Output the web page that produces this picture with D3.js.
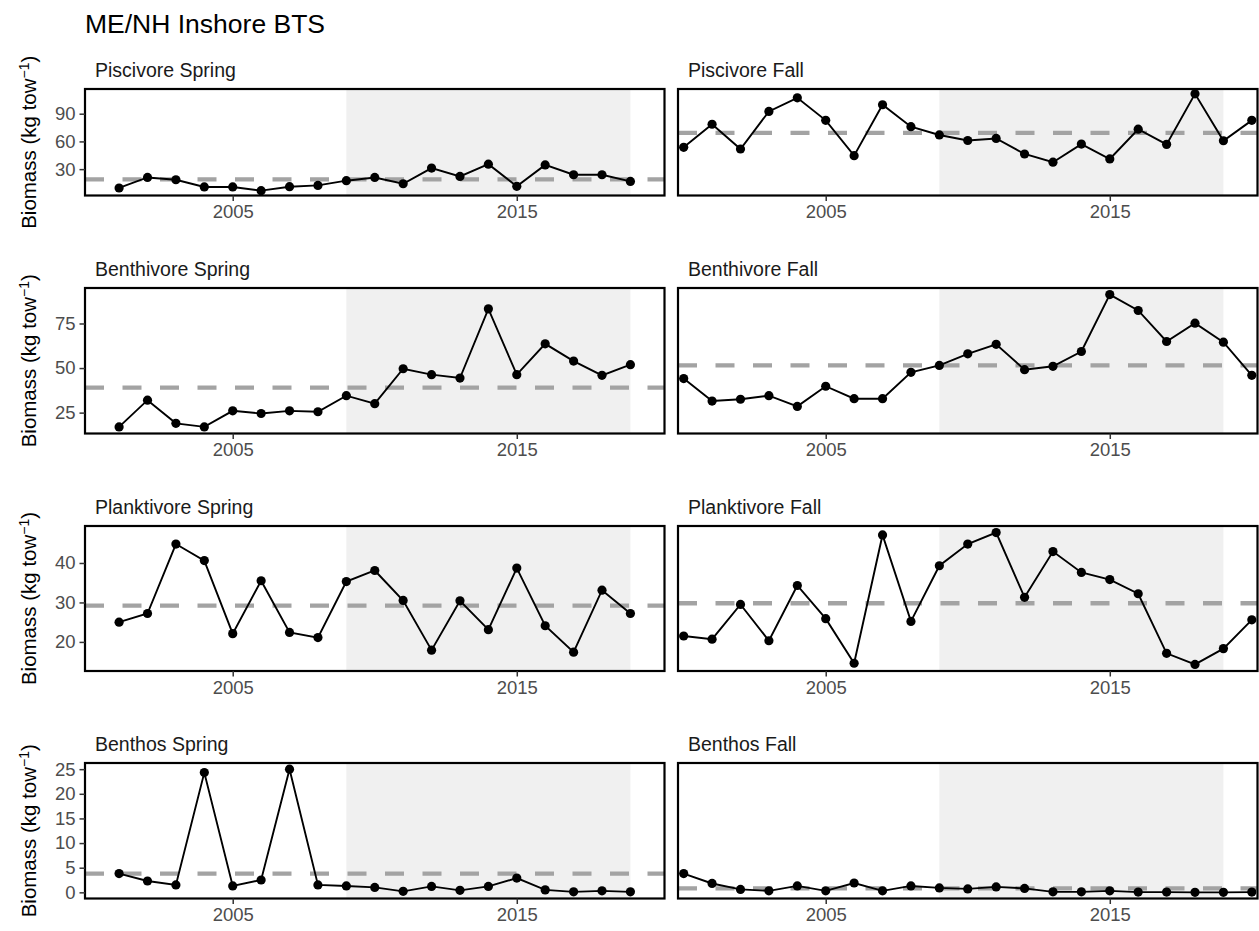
<!DOCTYPE html>
<html>
<head>
<meta charset="utf-8">
<script src="https://cdn.jsdelivr.net/npm/d3@7"></script>
<style>
  body { margin: 0; background: #fff; }
  svg { font-family: "Liberation Sans", Arial, sans-serif; }
</style>
</head>
<body>
<div class="svg-container"></div>
<script>
// data
const title = "ME/NH Inshore BTS";
const groups = ["Piscivore", "Benthivore", "Planktivore", "Benthos"];
const seasons = ["Spring", "Fall"];

const springYears = [2001, 2002, 2003, 2004, 2005, 2006, 2007, 2008, 2009, 2010,
  2011, 2012, 2013, 2014, 2015, 2016, 2017, 2018, 2019];
const fallYears = [2000, 2001, 2002, 2003, 2004, 2005, 2006, 2007, 2008, 2009, 2010,
  2011, 2012, 2013, 2014, 2015, 2016, 2017, 2018, 2019, 2020];

const piscivoreSpring = [9.6, 21.0, 18.5, 10.7, 10.7, 6.7, 11.0, 12.4, 17.5, 21.0,
  14.2, 31.1, 22.1, 35.4, 11.4, 34.6, 23.9, 23.9, 16.7];
const piscivoreFall = [53.6, 78.6, 51.8, 92.5, 107.2, 82.8, 44.6, 99.7, 76.0, 67.0, 61.0,
  63.2, 46.4, 37.5, 57.1, 41.0, 73.2, 56.8, 111.5, 60.7, 82.8];

const benthivoreSpring = [17.0, 32.0, 19.0, 17.0, 26.0, 24.5, 26.0, 25.5, 34.5, 30.0,
  49.6, 46.3, 44.4, 83.2, 46.3, 63.6, 53.9, 45.9, 51.9];
const benthivoreFall = [44.1, 31.5, 32.5, 34.5, 28.5, 39.8, 32.8, 32.8, 47.6, 51.5, 58.0,
  63.3, 49.1, 51.0, 59.3, 91.2, 82.3, 64.9, 75.2, 64.5, 45.9];

const planktivoreSpring = [25.0, 27.2, 44.8, 40.6, 22.1, 35.5, 22.4, 21.1, 35.3, 38.1,
  30.5, 17.9, 30.4, 23.1, 38.7, 24.1, 17.4, 33.1, 27.2];
const planktivoreFall = [21.5, 20.7, 29.5, 20.3, 34.3, 25.9, 14.6, 47.1, 25.2, 39.3, 44.8,
  47.7, 31.3, 42.9, 37.6, 35.8, 32.2, 17.1, 14.3, 18.3, 25.6];

const benthosSpring = [3.8, 2.3, 1.5, 24.3, 1.3, 2.5, 25.0, 1.5, 1.3, 1.0,
  0.2, 1.2, 0.4, 1.2, 2.9, 0.5, 0.1, 0.3, 0.1];
const benthosFall = [3.8, 1.8, 0.6, 0.3, 1.3, 0.3, 1.9, 0.3, 1.3, 0.9, 0.7,
  1.1, 0.8, 0.1, 0.1, 0.3, 0.05, 0.05, 0.0, 0.0, 0.05];

// long-term means (dashed lines)
const meanSpring = [19.0, 39.0, 29.2, 3.8];
const meanFall = [69.2, 51.5, 29.8, 0.8];

const yTicks = [[30, 60, 90], [25, 50, 75], [20, 30, 40], [0, 5, 10, 15, 20, 25]];
const xTicks = [2005, 2015];
const shadeYears = [2009, 2019];
const xDomain = [1999.8, 2020.2];

const rows = [
  { spring: piscivoreSpring, fall: piscivoreFall },
  { spring: benthivoreSpring, fall: benthivoreFall },
  { spring: planktivoreSpring, fall: planktivoreFall },
  { spring: benthosSpring, fall: benthosFall }
];

// layout
const w = 1259;
const h = 931;
const panelX = [[85, 664.5], [678, 1257.5]];
const rowTop = [89, 288, 526, 763];
const rowBottom = [195.5, 433.5, 671, 898.5];

const svg = d3.select(".svg-container")
  .append("svg")
  .attr("width", w)
  .attr("height", h);

svg.append("text")
  .attr("x", 85)
  .attr("y", 32.5)
  .style("font-size", "26.5px")
  .attr("fill", "#000")
  .text(title);

rows.forEach(function (row, r) {
  const allVals = row.spring.concat(row.fall);
  const lo = d3.min(allVals), hi = d3.max(allVals);
  const pad = (hi - lo) * 0.05;

  const yScale = d3.scaleLinear()
    .domain([lo - pad, hi + pad])
    .range([rowBottom[r], rowTop[r]]);

  // y axis title
  const cy = (rowTop[r] + rowBottom[r]) / 2;
  const yt = svg.append("text")
    .attr("transform", "translate(36," + cy + ") rotate(-90)")
    .attr("text-anchor", "middle")
    .style("font-size", "20.5px")
    .attr("fill", "#000");
  yt.append("tspan").text("Biomass (kg tow");
  yt.append("tspan").attr("dy", "-0.5em").style("font-size", "14px").text("\u22121");
  yt.append("tspan").attr("dy", "0.35em").text(")");

  seasons.forEach(function (season, p) {
    const years = season === "Spring" ? springYears : fallYears;
    const vals = season === "Spring" ? row.spring : row.fall;
    const meanVal = season === "Spring" ? meanSpring[r] : meanFall[r];
    const data = years.map((y, i) => [y, vals[i]]);

    const xScale = d3.scaleLinear()
      .domain(xDomain)
      .range(panelX[p]);

    const x0 = panelX[p][0], x1 = panelX[p][1];
    const y0 = rowTop[r], y1 = rowBottom[r];

    const clipId = "clip-" + r + "-" + p;
    svg.append("clipPath")
      .attr("id", clipId)
      .append("rect")
      .attr("x", x0).attr("y", y0)
      .attr("width", x1 - x0).attr("height", y1 - y0);

    const g = svg.append("g").attr("clip-path", "url(#" + clipId + ")");

    // shaded recent period
    g.append("rect")
      .attr("x", xScale(shadeYears[0]))
      .attr("y", y0)
      .attr("width", xScale(shadeYears[1]) - xScale(shadeYears[0]))
      .attr("height", y1 - y0)
      .attr("fill", "#f0f0f0");

    // mean line
    g.append("line")
      .attr("x1", x0).attr("x2", x1)
      .attr("y1", yScale(meanVal)).attr("y2", yScale(meanVal))
      .attr("stroke", "#a3a3a3")
      .attr("stroke-width", 4.3)
      .attr("stroke-dasharray", "19,18.5");

    const line = d3.line()
      .x(d => xScale(d[0]))
      .y(d => yScale(d[1]));

    g.append("path")
      .datum(data)
      .attr("d", line)
      .attr("fill", "none")
      .attr("stroke", "#000")
      .attr("stroke-width", 1.9);

    g.selectAll("circle")
      .data(data)
      .enter()
      .append("circle")
      .attr("cx", d => xScale(d[0]))
      .attr("cy", d => yScale(d[1]))
      .attr("r", 4.6)
      .attr("fill", "#000");

    // panel border
    svg.append("rect")
      .attr("x", x0).attr("y", y0)
      .attr("width", x1 - x0).attr("height", y1 - y0)
      .attr("fill", "none")
      .attr("stroke", "#000")
      .attr("stroke-width", 2.2);

    // strip label
    svg.append("text")
      .attr("x", x0 + 10)
      .attr("y", y0 - 12)
      .style("font-size", "19.5px")
      .attr("fill", "#1a1a1a")
      .text(groups[r] + " " + season);

    // x axis
    const xAxis = d3.axisBottom(xScale)
      .tickValues(xTicks)
      .tickFormat(d3.format("d"))
      .tickSize(5.5)
      .tickPadding(4);

    const gx = svg.append("g")
      .attr("transform", "translate(0," + y1 + ")")
      .call(xAxis);
    gx.select(".domain").remove();
    gx.selectAll(".tick line").attr("stroke", "#333").attr("stroke-width", 1.5);
    gx.selectAll(".tick text")
      .attr("fill", "#4d4d4d")
      .style("font-size", "18.5px")
      .style("font-family", "Liberation Sans, Arial, sans-serif");

    // y axis only on the left panel
    if (p === 0) {
      const yAxis = d3.axisLeft(yScale)
        .tickValues(yTicks[r])
        .tickSize(5.5)
        .tickPadding(4);
      const gy = svg.append("g")
        .attr("transform", "translate(" + x0 + ",0)")
        .call(yAxis);
      gy.select(".domain").remove();
      gy.selectAll(".tick line").attr("stroke", "#333").attr("stroke-width", 1.5);
      gy.selectAll(".tick text")
        .attr("fill", "#4d4d4d")
        .style("font-size", "18.5px")
        .style("font-family", "Liberation Sans, Arial, sans-serif");
    }
  });
});
</script>
</body>
</html>
